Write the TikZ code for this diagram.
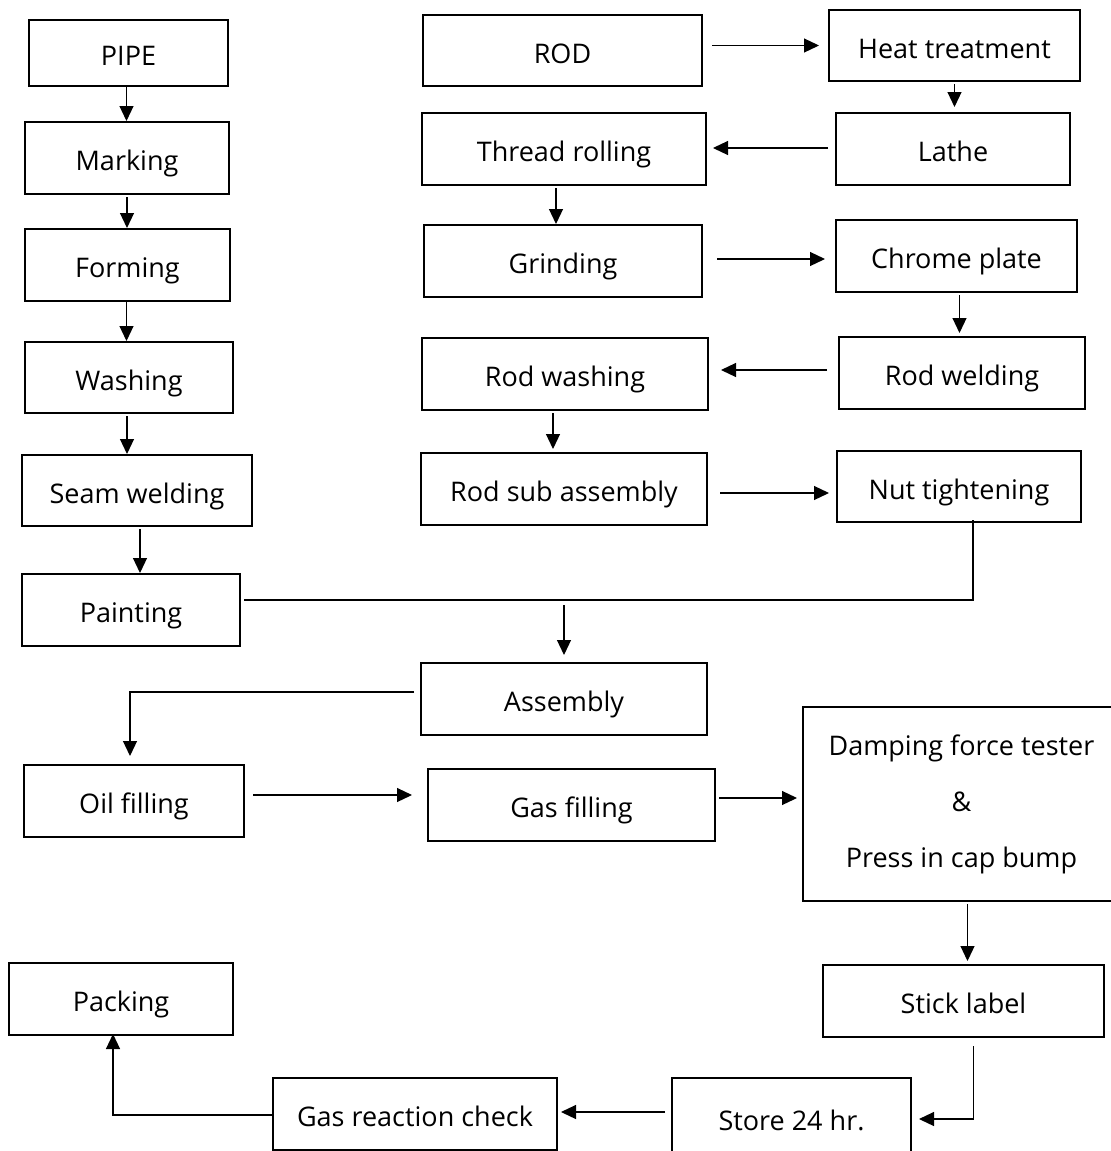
\documentclass[tikz,border=0pt]{standalone}
\usepackage{fontspec}
\setmainfont{Open Sans}
\usetikzlibrary{arrows.meta}
\tikzset{
	box/.style={draw,line width=1pt,inner sep=0pt,align=center,text height=13pt,text depth=0.5pt,font=\fontsize{13.5}{16}\selectfont},
	sz/.style 2 args={minimum width=#1*0.5pt,minimum height=#2*0.5pt},
	arr/.style={-{Triangle[length=7.5pt,width=7pt]},line width=0.6pt},
	ln/.style={line width=0.6pt}
}
\begin{document}
\begin{tikzpicture}[x=0.5pt,y=-0.5pt]
		\useasboundingbox (0,0) rectangle (1110,1151);
		% pipe line
		\node[box,sz={199}{66}] (pipe) at (128.5,53) {PIPE};
		\node[box,sz={204}{72}] (mark) at (127,158) {Marking};
		\node[box,sz={205}{72}] (form) at (127.5,265) {Forming};
		\node[box,sz={208}{71}] (wash) at (129,377.5) {Washing};
		\node[box,sz={230}{71}] (seam) at (137,490.5) {Seam welding};
		\node[box,sz={218}{72}] (paint) at (131,610) {Painting};
		% rod line
		\node[box,sz={279}{71}] (rod) at (562.5,50.5) {ROD};
		\node[box,sz={251}{71}] (heat) at (954.5,45.5) {Heat treatment};
		\node[box,sz={284}{72}] (thread) at (564,149) {Thread rolling};
		\node[box,sz={234}{72}] (lathe) at (953,149) {Lathe};
		\node[box,sz={278}{72}] (grind) at (563,261) {Grinding};
		\node[box,sz={241}{72}] (chrome) at (956.5,256) {Chrome plate};
		\node[box,sz={286}{72}] (rwash) at (565,374) {Rod washing};
		\node[box,sz={246}{72}] (rweld) at (962,373) {Rod welding};
		\node[box,sz={286}{72}] (rsub) at (564,489) {Rod sub assembly};
		\node[box,sz={244}{71}] (nut) at (959,486.5) {Nut tightening};
		% final line
		\node[box,sz={286}{72}] (assy) at (564,699) {Assembly};
		\node[box,sz={220}{72}] (oil) at (134,801) {Oil filling};
		\node[box,sz={287}{72}] (gas) at (571.5,805) {Gas filling};
		\node[box,sz={317}{194},text height=,text depth=] (damp) at (961.5,804) {Damping force tester\\[12pt]\&\\[12pt]Press in cap bump};
		\node[box,sz={281}{72}] (stick) at (963.5,1001) {Stick label};
		\node[box,sz={239}{80}] (store) at (791.5,1118) {Store 24 hr.};
		\node[box,sz={284}{72}] (gasrc) at (415,1114) {Gas reaction check};
		\node[box,sz={224}{72}] (pack) at (121,999) {Packing};
		\coordinate (join) at (973,600);
		%
		\draw[arr] ([xshift=-1pt]pipe.south) -- ([xshift=-1pt]pipe.south |- mark.north);
		\draw[arr,shorten <=1pt] (mark.south) -- (mark.south |- form.north);
		\draw[arr] ([xshift=-0.5pt]form.south) -- ([xshift=-0.5pt]form.south |- wash.north);
		\draw[arr,shorten <=1pt] ([xshift=-1pt]wash.south) -- ([xshift=-1pt]wash.south |- seam.north);
		\draw[arr,shorten <=1pt] ([xshift=1.5pt]seam.south) -- ([xshift=1.5pt]seam.south |- paint.north);
		\draw[arr,shorten <=4.5pt,shorten >=4.5pt] (rod.east |- heat.west) -- (heat.west);
		\draw[arr,shorten <=1pt,shorten >=2.5pt] (heat.south) -- (heat.south |- lathe.north);
		\draw[arr,shorten <=3.5pt,shorten >=3pt] ([yshift=0.5pt]lathe.west) -- ([yshift=0.5pt]lathe.west -| thread.east);
		\draw[arr,shorten <=1pt] ([xshift=-4pt]thread.south) -- ([xshift=-4pt]thread.south |- grind.north);
		\draw[arr,shorten <=7pt,shorten >=5pt] ([yshift=1pt]grind.east) -- ([yshift=1pt]grind.east -| chrome.west);
		\draw[arr,shorten <=1pt,shorten >=1.5pt] ([xshift=1.5pt]chrome.south) -- ([xshift=1.5pt]chrome.south |- rweld.north);
		\draw[arr,shorten <=5.5pt,shorten >=6pt] ([yshift=1.5pt]rweld.west) -- ([yshift=1.5pt]rweld.west -| rwash.east);
		\draw[arr,shorten <=1pt,shorten >=1.5pt] ([xshift=-6pt]rwash.south) -- ([xshift=-6pt]rwash.south |- rsub.north);
		\draw[arr,shorten <=6pt,shorten >=3.5pt] ([yshift=-2pt]rsub.east) -- ([yshift=-2pt]rsub.east -| nut.west);
		% join to assembly
		\draw[ln,shorten >=-0.5pt] (nut.south -| join) ++(0,-3) -- (join) -- ([xshift=2pt]paint.east |- join);
		\draw[arr,shorten <=2.5pt,shorten >=3.5pt] (assy.north |- join) -- (assy.north);
		\draw[arr,shorten <=3pt,shorten >=4pt] ([yshift=3.5pt]assy.west) -| ([xshift=-2pt]oil.north);
		\draw[arr,shorten <=4pt,shorten >=7.5pt] ([yshift=3pt]oil.east) -- ([yshift=3pt]oil.east -| gas.west);
		\draw[arr,shorten <=1.5pt,shorten >=2.5pt] ([yshift=3.5pt]gas.east) -- ([yshift=3.5pt]gas.east -| damp.west);
		\draw[arr,shorten <=1pt,shorten >=1.5pt] ([xshift=3pt]damp.south) -- ([xshift=3pt]damp.south |- stick.north);
		\draw[arr,shorten <=4pt,shorten >=3.5pt] ([xshift=5pt]stick.south) |- ([yshift=-0.5pt]store.east);
		\draw[arr,shorten <=3pt,shorten >=1.5pt] ([yshift=3pt]store.west) -- ([yshift=3pt]store.west -| gasrc.east);
		\draw[arr,shorten >=-1pt] ([yshift=-0.5pt]gasrc.west) -| ([xshift=-4pt]pack.south);
	\end{tikzpicture}
\end{document}
